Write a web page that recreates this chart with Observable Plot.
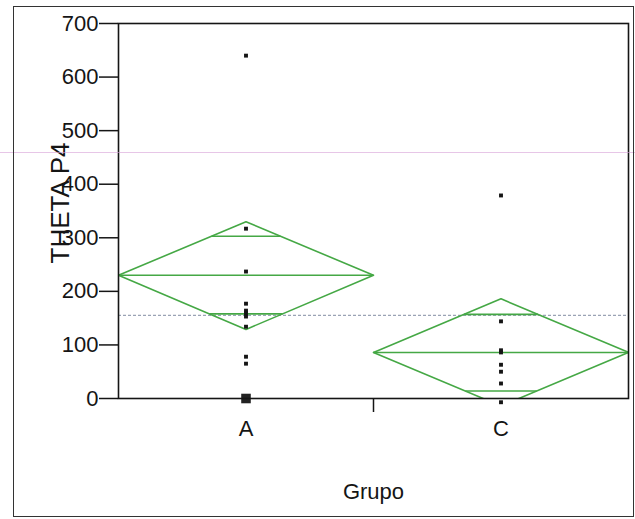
<!DOCTYPE html>
<html>
<head>
<meta charset="utf-8">
<script src="https://cdn.jsdelivr.net/npm/d3@7"></script>
<script src="https://cdn.jsdelivr.net/npm/@observablehq/plot@0.6"></script>
<style>
  html, body { margin: 0; padding: 0; background: #fff; }
  #wrap { position: relative; width: 635px; height: 519px; overflow: hidden; background: #fff; }
  #wrap svg { position: absolute; left: 0; top: 0; background: transparent; }
  #outer { position: absolute; left: 13px; top: 6px; width: 619px; height: 509px; border: 1.5px solid #333; pointer-events: none; }
  #scanline { position: absolute; left: 0; width: 635px; height: 1px; background: rgba(215,160,215,0.6); pointer-events: none; }
</style>
</head>
<body>
<div id="wrap"><div id="scanline"></div><div id="outer"></div></div>
<script>
// ---- data ----
const groups = ["A", "C"];
const groupPos = [0.5, 1.5];            // group centres on the Grupo axis
const valuesA = [640, 317, 237, 177, 164, 159, 153, 134, 78, 65, 0, 0, 0];
const valuesC = [379, 144, 90, 86, 63, 50, 28, -7];
const means = [230, 86];
const ciLow = [129, -14];
const ciHigh = [330, 186];
const overlapHigh = [303, 157];
const overlapLow = [158, 14];
const grandMean = 155;
const scanArtifact = 459;
const yTicks = [0, 100, 200, 300, 400, 500, 600, 700];

// ---- derived tables ----
const half = 0.5;
const diamonds = [];
const segments = [];
groups.forEach((g, i) => {
  const c = groupPos[i];
  [[c - half, means[i]], [c, ciHigh[i]], [c + half, means[i]], [c, ciLow[i]], [c - half, means[i]]]
    .forEach(([x, y]) => diamonds.push({g, x, y}));
  segments.push({g, x1: c - half, x2: c + half, y: means[i]});
  const wHi = half * (1 - (overlapHigh[i] - means[i]) / (ciHigh[i] - means[i]));
  const wLo = half * (1 - (means[i] - overlapLow[i]) / (means[i] - ciLow[i]));
  segments.push({g, x1: c - wHi, x2: c + wHi, y: overlapHigh[i]});
  segments.push({g, x1: c - wLo, x2: c + wLo, y: overlapLow[i]});
});
const points = [];
[valuesA, valuesC].forEach((vals, i) => {
  const counts = d3.rollup(vals, v => v.length, v => v);
  for (const [v, n] of counts) points.push({g: groups[i], x: groupPos[i], y: v, n});
});

const green = "#45a845";
const ink = "#151515";
const font = "'Liberation Sans', Arial, sans-serif";

const chart = Plot.plot({
  width: 635,
  height: 519,
  marginLeft: 118,
  marginRight: 7,
  marginTop: 23,
  marginBottom: 121,
  style: {fontFamily: font, fontSize: "22px", color: ink, background: "transparent"},
  x: {domain: [0, 2], axis: null},
  y: {domain: [0, 700], axis: null},
  marks: [
    Plot.ruleY([grandMean], {stroke: "#9aa3b5", strokeWidth: 1.2, strokeDasharray: "3,2"}),
    Plot.line(diamonds, {x: "x", y: "y", z: "g", stroke: green, strokeWidth: 1.6, clip: "frame"}),
    Plot.link(segments, {x1: "x1", x2: "x2", y1: "y", y2: "y", stroke: green, strokeWidth: 1.6}),
    Plot.dot(points.filter(d => d.n === 1), {x: "x", y: "y", symbol: "square", r: 2.2, fill: ink, stroke: "none"}),
    Plot.dot(points.filter(d => d.n > 1), {x: "x", y: "y", symbol: "square", r: 5.4, fill: "#222", stroke: "none"}),
    Plot.frame({stroke: ink, strokeWidth: 1.6}),
    Plot.axisY({ticks: yTicks, tickSize: 19, tickPadding: 1, stroke: ink, strokeWidth: 1.5, fontSize: 22, label: null}),
    Plot.axisX({ticks: groupPos, tickFormat: (d, i) => groups[i], tickSize: 0, tickPadding: 22, fontSize: 22, label: null}),
    Plot.axisX({ticks: [1], tickFormat: () => "", tickSize: 14, stroke: ink, strokeWidth: 1.5, label: null}),
    Plot.text(["Grupo"], {frameAnchor: "bottom", dy: 85, lineAnchor: "top", fontSize: 22, fill: ink}),
    Plot.text(["THETA P4"], {frameAnchor: "left", dx: -58, dy: -8, rotate: -90, textAnchor: "middle", lineAnchor: "middle", fontSize: 26, fill: ink})
  ]
});

const wrap = document.getElementById("wrap");
wrap.insertBefore(chart, wrap.firstChild);
document.getElementById("scanline").style.top = (chart.scale("y").apply(scanArtifact) - 0.5) + "px";
</script>
</body>
</html>
